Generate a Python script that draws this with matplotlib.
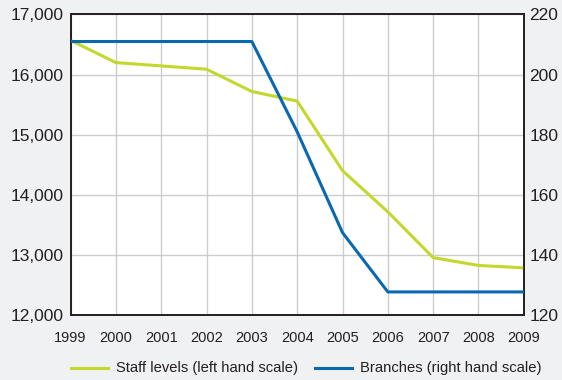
import matplotlib
matplotlib.use("Agg")
import matplotlib.pyplot as plt
from matplotlib.lines import Line2D
from matplotlib.ticker import FuncFormatter

# values
years = [1999, 2000, 2001, 2002, 2003, 2004, 2005, 2006, 2007, 2008, 2009]
staff = [16570, 16200, 16145, 16090, 15720, 15560, 14405, 13720, 12960, 12830, 12790]
branches = [211, 211, 211, 211, 211, 181, 147.5, 127.8, 127.8, 127.8, 127.8]
labels = ["Staff levels (left hand scale)", "Branches (right hand scale)"]

BG = "#f0f1f3"
GREEN = "#c2d82d"
BLUE = "#0a68b0"
GRID = "#cccccc"
TXT = "#231f20"

plt.rcParams.update({"font.family": ["Liberation Sans", "DejaVu Sans"], "text.color": TXT})

fig = plt.figure(figsize=(5.62, 3.80), dpi=100, facecolor=BG)
ax = fig.add_axes([0.1256, 0.170, 0.8064, 0.792])
ax.set_facecolor("white")
ax2 = ax.twinx()

ax.plot(years, staff, color=GREEN, lw=2.2, zorder=3)
ax2.plot(years, branches, color=BLUE, lw=2.2, zorder=3)

ax.set_xlim(1999, 2009)
ax.set_ylim(12000, 17000)
ax2.set_ylim(120, 220)
ax.set_xticks(years)
ax.set_yticks(range(12000, 17001, 1000))
ax2.set_yticks(range(120, 221, 20))
ax.yaxis.set_major_formatter(FuncFormatter(lambda v, p: f"{int(v):,}"))
ax.grid(True, color=GRID, lw=1.0)
ax.set_axisbelow(True)

ax.tick_params(axis="y", length=0, labelsize=12.5, colors=TXT, pad=5)
ax.tick_params(axis="x", length=0, labelsize=10.5, colors=TXT, pad=11)
ax2.tick_params(axis="y", length=0, labelsize=12.5, colors=TXT, pad=4)
for a in (ax, ax2):
    for s in a.spines.values():
        s.set_color(TXT)
        s.set_linewidth(1.2)

# legend drawn by hand below the plot
ly = 1 - 368 / 380
for x0, col, lab in [(71, GREEN, labels[0]), (315, BLUE, labels[1])]:
    fig.add_artist(Line2D([x0 / 562, (x0 + 37) / 562], [ly, ly], color=col, lw=2.2,
                          transform=fig.transFigure))
    fig.text((x0 + 45) / 562, ly, lab, fontsize=10.6, va="center", ha="left")

fig.savefig("out.png", dpi=100, facecolor=BG)
